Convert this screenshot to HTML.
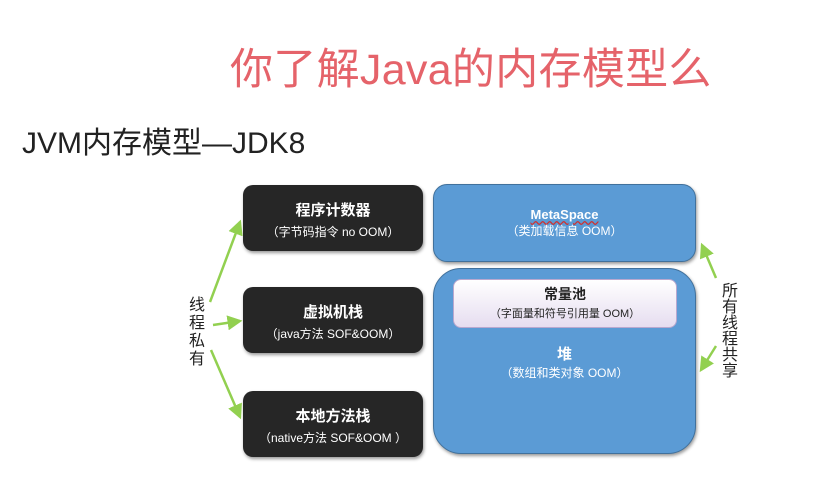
<!DOCTYPE html>
<html><head><meta charset="utf-8"><style>
body{margin:0;width:838px;height:489px;background:#fff;position:relative;overflow:hidden;font-family:"Liberation Sans","Noto Sans CJK SC",sans-serif}
.a{position:absolute}
.bk{position:absolute;left:243px;width:180px;background:#262626;border-radius:10px;color:#fff;text-align:center;box-shadow:1px 2px 3px #999}
.bk b{display:block;font-size:15px;margin-top:14px}
.bk span{display:block;font-size:12px;margin-top:3px}
.bl{position:absolute;background:#5b9bd5;border:1px solid #41719c;color:#fff;text-align:center;box-shadow:1px 2px 3px #999}
</style></head><body>
<div class="a" style="left:230px;top:35px;font-size:43px;letter-spacing:0.3px;color:#e5636a;white-space:nowrap">你了解Java的内存模型么</div>
<div class="a" style="left:22px;top:118px;font-size:30px;color:#222;white-space:nowrap">JVM内存模型—JDK8</div>
<div class="bk" style="top:185px;height:66px"><b>程序计数器</b><span>（字节码指令 no OOM）</span></div>
<div class="bk" style="top:287px;height:66px"><b>虚拟机栈</b><span>（java方法 SOF&amp;OOM）</span></div>
<div class="bk" style="top:391px;height:66px"><b>本地方法栈</b><span>（native方法 SOF&amp;OOM ）</span></div>
<div class="bl" style="left:433px;top:184px;width:261px;height:76px;border-radius:14px"><b style="display:block;font-size:13px;margin-top:22px;text-decoration:underline wavy #c33">MetaSpace</b><span style="font-size:12px">（类加载信息 OOM）</span></div>
<div class="bl" style="left:433px;top:268px;width:261px;height:184px;border-radius:28px"><b style="display:block;font-size:15px;margin-top:74px">堆</b><span style="font-size:12px">（数组和类对象 OOM）</span></div>
<div class="a" style="left:453px;top:279px;width:222px;height:47px;border-radius:8px;background:linear-gradient(#fff,#e6ddf0);border:1px solid #b9a8cf;text-align:center;color:#222"><b style="display:block;font-size:14px;margin-top:4px">常量池</b><span style="font-size:11px">（字面量和符号引用量 OOM）</span></div>
<div class="a" style="left:189px;top:297px;width:16px;font-size:16px;line-height:18px;color:#222">线程私有</div>
<div class="a" style="left:722px;top:284px;width:16px;font-size:16px;line-height:16px;color:#222">所有线程共享</div>
<svg class="a" style="left:0;top:0" width="838" height="489">
<defs><marker id="m" markerWidth="6" markerHeight="6" refX="5" refY="3" orient="auto"><path d="M0,0L6,3L0,6z" fill="#92d050"/></marker></defs>
<g stroke="#92d050" stroke-width="2.5" fill="none" marker-end="url(#m)">
<line x1="210" y1="302" x2="240" y2="222"/>
<line x1="213" y1="325" x2="240" y2="321"/>
<line x1="211" y1="350" x2="240" y2="417"/>
<line x1="716" y1="278" x2="702" y2="245"/>
<line x1="716" y1="346" x2="701" y2="370"/>
</g></svg>
</body></html>
